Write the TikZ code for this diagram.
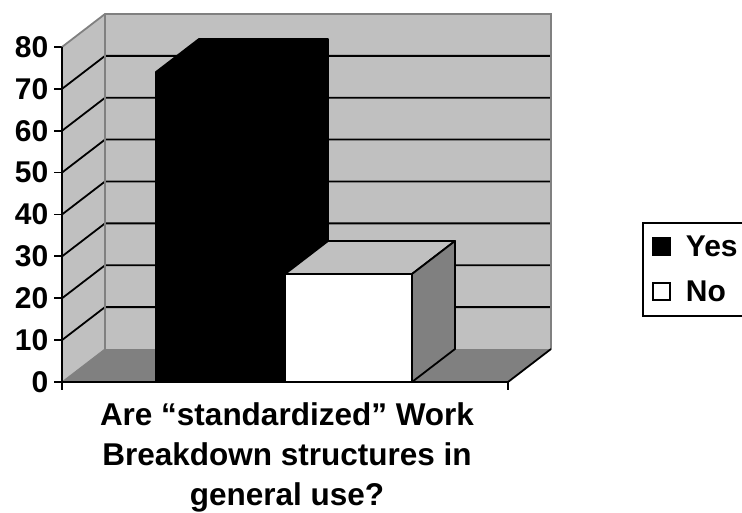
\documentclass[tikz,border=0pt]{standalone}
\usepackage{fontspec}
\setmainfont{Liberation Sans}
\usepackage{tikz}
\usetikzlibrary{positioning}
\definecolor{wallgray}{HTML}{C0C0C0}
\definecolor{floorgray}{HTML}{808080}
\tikzset{
  gridline/.style={black, line width=1.8pt},
  frame/.style={floorgray, line width=1.8pt},
  barface/.style={draw=black, line width=1.8pt, line join=round},
  ticklabel/.style={anchor=east, inner sep=0pt, font=\bfseries\fontsize{30}{36}\selectfont},
  titletext/.style={inner sep=0pt, align=center, font=\bfseries\fontsize{31.5}{40}\selectfont},
  swatch/.style={draw=black, line width=1.5pt, minimum size=17pt, inner sep=0pt},
  legendtext/.style={inner sep=0pt, font=\bfseries\fontsize{30}{36}\selectfont},
}

\begin{document}
\begin{tikzpicture}[x=1pt, y=-1pt]
\useasboundingbox (0,0) rectangle (742,513);
\clip (0,0) rectangle (742,513);

%Walls
\fill[wallgray] (62,47) -- (105,14) -- (551,14) -- (551,349) -- (105,349) -- (62,382) -- cycle;
\fill[floorgray] (62,382) -- (105,349) -- (551,349) -- (508,382) -- cycle;

%Grid and labels
\foreach \y/\lbl in {382/0, 340.1/10, 298.3/20, 256.4/30, 214.5/40, 172.6/50, 130.8/60, 88.9/70, 47/80} {
  \draw[gridline] (54,\y) -- (62,\y);
  \node[ticklabel] (lab\lbl) at (48.5,\y) {\lbl};
}
\foreach \y in {340.1, 298.3, 256.4, 214.5, 172.6, 130.8, 88.9}
  \draw[gridline] (62,\y) -- (105,\y-33) -- (551,\y-33);
\draw[frame] (62,47) -- (105,14) -- (551,14) -- (551,349);
\draw[frame] (105,14) -- (105,349);
\draw[floorgray, line width=1pt] (62,382) -- (105,349);
\draw[gridline] (508,382) -- (551,349);

%Bars
\filldraw[barface, fill=black] (156,382) -- (156,72) -- (199,39) -- (328,39) -- (328,349) -- (285,382) -- cycle;
\filldraw[barface, fill=white] (285,382) rectangle (412,274);
\filldraw[barface, fill=wallgray] (285,274) -- (328,241) -- (455,241) -- (412,274) -- cycle;
\filldraw[barface, fill=floorgray] (412,274) -- (455,241) -- (455,349) -- (412,382) -- cycle;

%Axes
\draw[gridline] (62,47) -- (62,390);
\draw[gridline] (62,382) -- (508,382) -- (508,390);

%Title
\node[titletext, anchor=north] (title) at (287,402) {Are “standardized” Work\\Breakdown structures in\\general use?};

%Legend
\draw[line width=1.8pt] (643,223) rectangle (760,316);
\node[swatch, fill=black] (yesbox) at (661.5,246.5) {};
\node[swatch, fill=white] (nobox) at (661.5,291.5) {};
\node[legendtext] (yes) [right=15pt of yesbox] {Yes};
\node[legendtext] (no) [right=15pt of nobox] {No};
\end{tikzpicture}
\end{document}
